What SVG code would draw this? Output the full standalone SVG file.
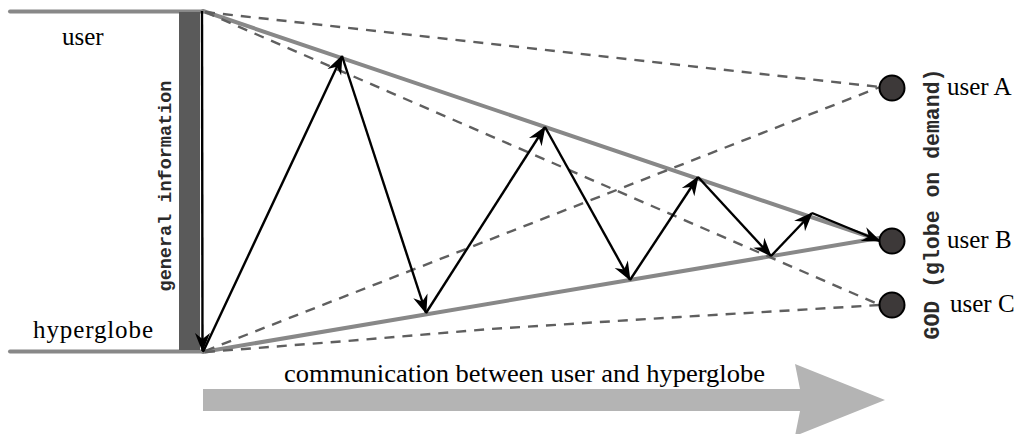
<svg xmlns="http://www.w3.org/2000/svg" width="1019" height="434" viewBox="0 0 1019 434">
  <style>
    .serif { font-family: "Liberation Serif", "Times New Roman", serif; font-size: 25px; fill: #000; }
    .mono { font-family: "Liberation Mono", "Courier New", monospace; fill: #2a2a2a; font-weight: bold; }
    .frame { stroke: #888; stroke-width: 4; fill: none; stroke-linecap: round; }
    .dash { stroke: #5f5f5f; stroke-width: 2.4; fill: none; stroke-dasharray: 10 8; }
    .arr { stroke: #000; stroke-width: 2.4; fill: none; marker-end: url(#ah); }
    .node { fill: #3d3939; stroke: #000; stroke-width: 2; }
  </style>
  <defs>
    <marker id="ah" markerUnits="userSpaceOnUse" viewBox="-20 -10 22 20" refX="0" refY="0" markerWidth="22" markerHeight="20" orient="auto">
      <path d="M1,0 L-18,-7.5 L-12,0 L-18,7.5 Z" fill="#000"/>
    </marker>
  </defs>
  <rect width="1019" height="434" fill="#fff"/>

  <g id="frame">
    <line class="frame" x1="10" y1="11.5" x2="203" y2="11.5"/>
    <line class="frame" x1="10" y1="351.5" x2="203" y2="351.5"/>
    <rect x="179" y="12" width="21" height="338" fill="#5a5a5a"/>
    <line class="frame" x1="203" y1="11" x2="879" y2="240" stroke-linecap="butt"/>
    <line class="frame" x1="203" y1="352" x2="879" y2="238" stroke-linecap="butt"/>
  </g>

  <g id="connectors">
    <polyline class="dash" points="205,12 340,27 680,65 880,87"/>
    <line class="dash" x1="205" y1="12" x2="880" y2="305"/>
    <line class="dash" x1="205" y1="351" x2="880" y2="87"/>
    <polyline class="dash" points="205,352 347,341 490,329 680,317 880,305"/>

    <line class="arr" x1="202" y1="11" x2="202.5" y2="351"/>
    <line class="arr" x1="203" y1="352" x2="342" y2="56"/>
    <line class="arr" x1="342" y1="56" x2="426" y2="313"/>
    <line class="arr" x1="426" y1="313" x2="545" y2="127"/>
    <line class="arr" x1="545" y1="127" x2="630" y2="280"/>
    <line class="arr" x1="630" y1="280" x2="698" y2="177"/>
    <line class="arr" x1="698" y1="177" x2="771" y2="256"/>
    <line class="arr" x1="771" y1="256" x2="812" y2="213"/>
    <line class="arr" x1="812" y1="213" x2="880" y2="241" stroke-width="3"/>
  </g>

  <g id="user-a">
    <circle class="node" cx="892" cy="88" r="12.5"/>
    <text class="serif" x="947" y="95">user A</text>
  </g>
  <g id="user-b">
    <circle class="node" cx="892" cy="241" r="12.5"/>
    <text class="serif" x="947" y="248">user B</text>
  </g>
  <g id="user-c">
    <circle class="node" cx="892" cy="305" r="12.5"/>
    <text class="serif" x="950" y="312">user C</text>
  </g>

  <g id="labels">
    <text class="serif" x="62" y="45">user</text>
    <text class="serif" x="33" y="338" textLength="120" lengthAdjust="spacing">hyperglobe</text>
    <text class="mono" font-size="18.5" transform="translate(171,186) rotate(-90)" text-anchor="middle">general information</text>
    <text class="mono" font-size="21.5" transform="translate(939,204) rotate(-90)" text-anchor="middle">GOD (globe on demand)</text>
  </g>

  <g id="flow-arrow">
    <polygon points="203,389 800,389 795,364 885,400 795,436 800,411 203,411" fill="#b4b4b4"/>
    <text class="serif" x="284" y="382" textLength="481" lengthAdjust="spacingAndGlyphs">communication between user and hyperglobe</text>
  </g>
</svg>
